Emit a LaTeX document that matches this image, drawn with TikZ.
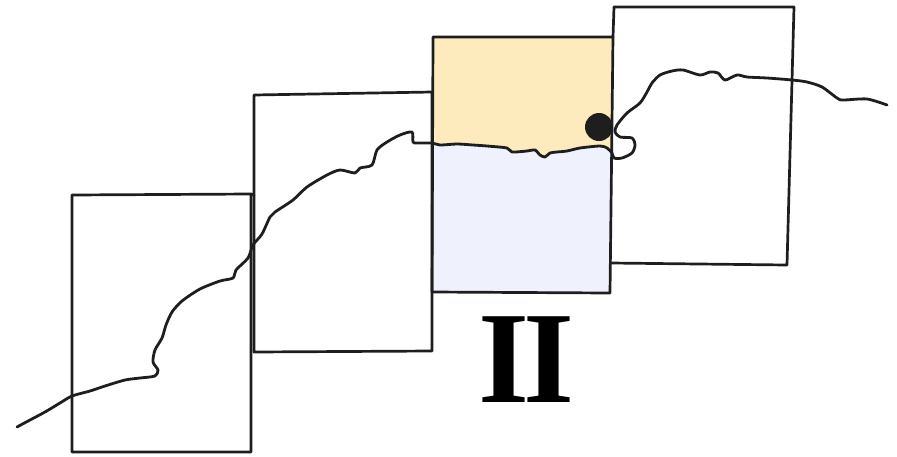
\documentclass[tikz,border=0pt]{standalone}
\usepackage{fontspec}
\newfontfamily\lsb{Liberation Serif}
\definecolor{paleyellow}{RGB}{253,235,190}
\definecolor{palelav}{RGB}{239,241,253}
\definecolor{ink}{RGB}{30,30,30}
\tikzset{
  frame/.style={draw=ink, line width=2.7pt, line join=round, line cap=round},
  ridge/.style={draw=ink, line width=2.8pt, line join=round, line cap=round},
}
\begin{document}
\begin{tikzpicture}[x=1pt,y=-1pt]
\useasboundingbox (0,0) rectangle (897,456);
% fills of the third panel
\fill[paleyellow] (433,37) -- (613,37) -- (611,148)
  -- plot[smooth,tension=0.5] coordinates {(608,148) (600,146) (580,148) (567,151) (557,152) (550,153) (545,157) (540,155) (535,150) (527,151) (512,152) (507,148) (487,146) (473,145) (457,144) (440,145) (433,144)} -- cycle;
\fill[palelav] (433,144)
  -- plot[smooth,tension=0.5] coordinates {(433,144) (440,145) (457,144) (473,145) (487,146) (507,148) (512,152) (527,151) (535,150) (540,155) (545,157) (550,153) (557,152) (567,151) (580,148) (600,146) (608,148)}
  -- (611,148) -- (610,292) -- (432,292) -- cycle;
% panels
\coordinate (p1a) at (72,195); \coordinate (p1b) at (251,194);
\coordinate (p1c) at (251,452); \coordinate (p1d) at (72,452);
\draw[frame] (p1a) -- (p1b) -- (p1c) -- (p1d) -- cycle;
\coordinate (p2a) at (254,95); \coordinate (p2b) at (432,92);
\coordinate (p2c) at (432,351); \coordinate (p2d) at (254,352);
\draw[frame] (p2a) -- (p2b) -- (p2c) -- (p2d) -- cycle;
\draw[frame] (251,194) -- (254,195);
\coordinate (p3a) at (433,37); \coordinate (p3b) at (613,37);
\coordinate (p3c) at (610,293); \coordinate (p3d) at (432,292);
\draw[frame] (p3a) -- (p3b) -- (p3c) -- (p3d) -- cycle;
\coordinate (p4a) at (614,7); \coordinate (p4b) at (794,7);
\coordinate (p4c) at (787,265); \coordinate (p4d) at (611,263);
\draw[frame] (p4a) -- (p4b) -- (p4c) -- (p4d);
\draw[frame] (p4a) -- (613,37);
% the ridge line
\draw[ridge] plot[smooth,tension=0.45] coordinates {
 (17,427) (30,420) (45,412) (60,403) (72,396) (90,391) (105,386) (125,380) (140,378) (155,376)
 (158,370) (153,362) (155,350) (162,338) (166,325) (172,312) (182,301) (200,289) (220,281) (233,278)
 (236,270) (248,258) (253,245) (262,234) (270,217) (275,212) (293,200) (307,187) (327,175) (340,170)
 (355,173) (360,168) (372,165) (377,150) (387,142) (400,135) (412,132) (413,142) (417,143) (432,143)
 (440,145) (457,144) (473,145) (487,146) (507,148) (512,152) (527,151) (535,150) (540,155) (545,157)
 (550,153) (557,152) (567,151) (580,148) (600,146) (607,148) (612,153) (614,158) (622,158) (632,153)
 (635,145) (632,138) (620,137) (615,132) (617,125) (627,113) (640,103) (647,92) (652,83) (660,75)
 (672,71) (683,70) (700,75) (710,72) (718,73) (725,80) (737,75) (747,77) (767,78) (792,80)
 (807,82) (822,87) (837,98) (843,100) (867,99) (887,105)};
% point
\node[circle, fill=ink, inner sep=0pt, minimum size=28pt] (dot) at (599,127) {};
% label
\node[anchor=base, inner sep=0pt] (label) at (526,402) {\lsb\fontsize{131}{131}\selectfont\bfseries I\kern-6pt I};
\end{tikzpicture}
\end{document}
